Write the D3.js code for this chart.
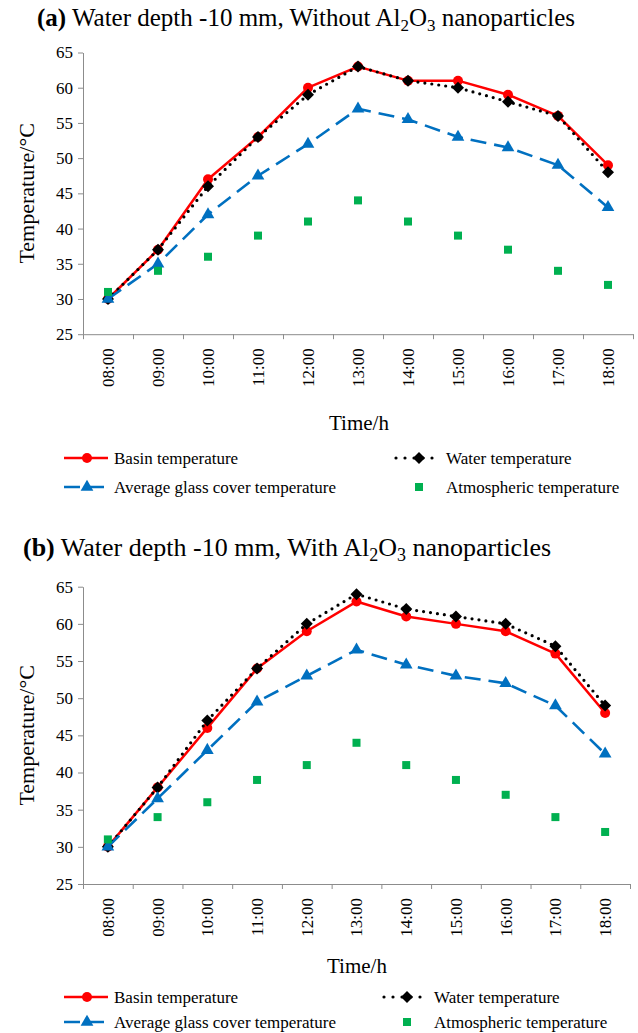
<!DOCTYPE html>
<html>
<head>
<meta charset="utf-8">
<script src="https://cdn.jsdelivr.net/npm/d3@7"></script>
<style>
  html, body { margin: 0; padding: 0; background: #fff; }
  svg { display: block; }
  text { font-family: "Liberation Serif", "Times New Roman", serif; fill: #000; }
</style>
</head>
<body>
<svg id="chart" width="638" height="1033"></svg>
<script>
const hours = ['08:00', '09:00', '10:00', '11:00', '12:00', '13:00', '14:00', '15:00', '16:00', '17:00', '18:00'];
const yTicks = [25, 30, 35, 40, 45, 50, 55, 60, 65];

// (a) without Al2O3
const basinA = [30, 37, 47, 53, 60, 63, 61, 61, 59, 56, 49];
const waterA = [30, 37, 46, 53, 59, 63, 61, 60, 58, 56, 48];
const glassA = [30, 35, 42, 47.5, 52, 57, 55.5, 53, 51.5, 49, 43];
const atmosA = [31, 34, 36, 39, 41, 44, 41, 39, 37, 34, 32];

// (b) with Al2O3
const basinB = [30, 38, 46, 54, 59, 63, 61, 60, 59, 56, 48];
const waterB = [30, 38, 47, 54, 60, 64, 62, 61, 60, 57, 49];
const glassB = [30, 36.5, 43, 49.5, 53, 56.5, 54.5, 53, 52, 49, 42.5];
const atmosB = [31, 34, 36, 39, 41, 44, 41, 39, 37, 34, 32];

const seriesNames = ['Basin temperature', 'Water temperature', 'Average glass cover temperature', 'Atmospheric temperature'];

const RED = '#ff0000', BLUE = '#0070c0', GREEN = '#00b050', AXIS = '#8c8c8c';
const diamond = 'M0,-6L6,0L0,6L-6,0Z';

const svg = d3.select('#chart');

function drawMarker(g, kind, x, y) {
    if (kind === 'basin') {
        g.append('circle').attr('cx', x).attr('cy', y).attr('r', 5).attr('fill', RED);
    } else if (kind === 'water') {
        g.append('path').attr('d', diamond).attr('transform', `translate(${x},${y})`).attr('fill', '#000');
    } else if (kind === 'glass') {
        g.append('path').attr('d', d3.symbol(d3.symbolTriangle, 70)()).attr('transform', `translate(${x},${y})`).attr('fill', BLUE);
    } else {
        g.append('rect').attr('x', x - 4).attr('y', y - 4).attr('width', 8).attr('height', 8).attr('fill', GREEN);
    }
}

const lineStyle = {
    basin: { stroke: RED, width: 2.5, dash: null, cap: 'butt' },
    water: { stroke: '#000', width: 3.2, dash: '0 7', cap: 'round' },
    glass: { stroke: BLUE, width: 2.6, dash: '16 8', cap: 'butt' }
};

function drawPanel(cfg) {
    const g = svg.append('g');

    // title with subscripts
    const sub = Math.round(cfg.titleSize * 0.68) + 'px';
    const t = g.append('text').attr('x', cfg.titleX).attr('y', cfg.titleY).style('font-size', cfg.titleSize + 'px');
    t.append('tspan').style('font-weight', 'bold').text(cfg.tag);
    t.append('tspan').text(' Water depth -10 mm, ' + cfg.word + ' Al');
    t.append('tspan').attr('dy', 5).style('font-size', sub).text('2');
    t.append('tspan').attr('dy', -5).text('O');
    t.append('tspan').attr('dy', 5).style('font-size', sub).text('3');
    t.append('tspan').attr('dy', -5).text(' nanoparticles');

    const x = d3.scaleBand().domain(hours).range([cfg.x0, cfg.x1]).padding(0);
    const xi = d3.scaleLinear().domain([0, hours.length]).range([cfg.x0, cfg.x1]);
    const y = d3.scaleLinear().domain([25, 65]).range([cfg.yBottom, cfg.yTop]);
    const cx = d => x(d) + x.bandwidth() / 2;

    // y axis
    const ya = g.append('g').attr('transform', `translate(${cfg.x0},0)`)
        .call(d3.axisLeft(y).tickValues(yTicks).tickSize(5).tickSizeOuter(0).tickPadding(5));
    ya.selectAll('path, line').attr('stroke', AXIS);
    ya.selectAll('text').style('font-size', '17px').style('font-family', '"Liberation Serif", serif');

    // x axis: ticks between categories
    const xa = g.append('g').attr('transform', `translate(0,${cfg.yBottom})`)
        .call(d3.axisBottom(xi).tickValues(d3.range(hours.length + 1)).tickSize(5).tickSizeOuter(0).tickFormat(''));
    xa.selectAll('path, line').attr('stroke', AXIS);

    g.selectAll('.xlab').data(hours).join('text')
        .attr('class', 'xlab')
        .attr('transform', d => `translate(${cx(d)},${cfg.yBottom + 14}) rotate(-90)`)
        .attr('dy', '0.35em')
        .attr('text-anchor', 'end')
        .style('font-size', '17px')
        .text(d => d);

    // axis titles
    g.append('text')
        .attr('transform', `translate(${cfg.yTitleX},${(cfg.yTop + cfg.yBottom) / 2}) rotate(-90)`)
        .attr('dy', '0.35em').attr('text-anchor', 'middle')
        .style('font-size', '22px').text('Temperature/°C');
    g.append('text')
        .attr('x', cfg.timeX).attr('y', cfg.timeY).attr('dy', '0.35em').attr('text-anchor', 'middle')
        .style('font-size', '21px').text('Time/h');

    // lines
    const line = d3.line().x((d, i) => cx(hours[i])).y(d => y(d));
    const plot = g.append('g');
    [['basin', cfg.basin], ['water', cfg.water], ['glass', cfg.glass]].forEach(([k, vals]) => {
        const s = lineStyle[k];
        plot.append('path').datum(vals).attr('d', line)
            .attr('fill', 'none').attr('stroke', s.stroke).attr('stroke-width', s.width)
            .attr('stroke-dasharray', s.dash).attr('stroke-linecap', s.cap).attr('stroke-linejoin', 'round');
        vals.forEach((v, i) => drawMarker(plot, k, cx(hours[i]), y(v)));
    });
    cfg.atmos.forEach((v, i) => drawMarker(plot, 'atmos', cx(hours[i]), y(v)));

    // legend
    const lg = g.append('g');
    const items = [
        { k: 'basin', mx: 87, tx: 114, ry: cfg.leg1 },
        { k: 'water', mx: cfg.col2m, tx: cfg.col2t, ry: cfg.leg1 },
        { k: 'glass', mx: 87, tx: 114, ry: cfg.leg2 },
        { k: 'atmos', mx: cfg.col2m, tx: cfg.col2t, ry: cfg.leg2 }
    ];
    items.forEach((it, i) => {
        if (it.k !== 'atmos') {
            const s = lineStyle[it.k];
            lg.append('line').attr('x1', it.mx - 23).attr('x2', it.mx + 21).attr('y1', it.ry).attr('y2', it.ry)
                .attr('stroke', s.stroke).attr('stroke-width', s.width)
                .attr('stroke-dasharray', it.k === 'water' ? '0 9' : s.dash)
                .attr('stroke-linecap', s.cap);
        }
        drawMarker(lg, it.k, it.mx, it.ry);
        lg.append('text').attr('x', it.tx).attr('y', it.ry).attr('dy', '0.35em')
            .style('font-size', '17px').text(seriesNames[i]);
    });
}

drawPanel({
    tag: '(a)', word: 'Without', titleX: 37, titleY: 26, titleSize: 25,
    x0: 83, x1: 633, yTop: 52.5, yBottom: 334.2, yTitleX: 26,
    timeX: 359, timeY: 423, leg1: 458, leg2: 487, col2m: 419, col2t: 446,
    basin: basinA, water: waterA, glass: glassA, atmos: atmosA
});

drawPanel({
    tag: '(b)', word: 'With', titleX: 23, titleY: 556, titleSize: 26,
    x0: 83, x1: 630, yTop: 586.7, yBottom: 884, yTitleX: 26,
    timeX: 357, timeY: 966, leg1: 997, leg2: 1022, col2m: 407, col2t: 434,
    basin: basinB, water: waterB, glass: glassB, atmos: atmosB
});
</script>
</body>
</html>
